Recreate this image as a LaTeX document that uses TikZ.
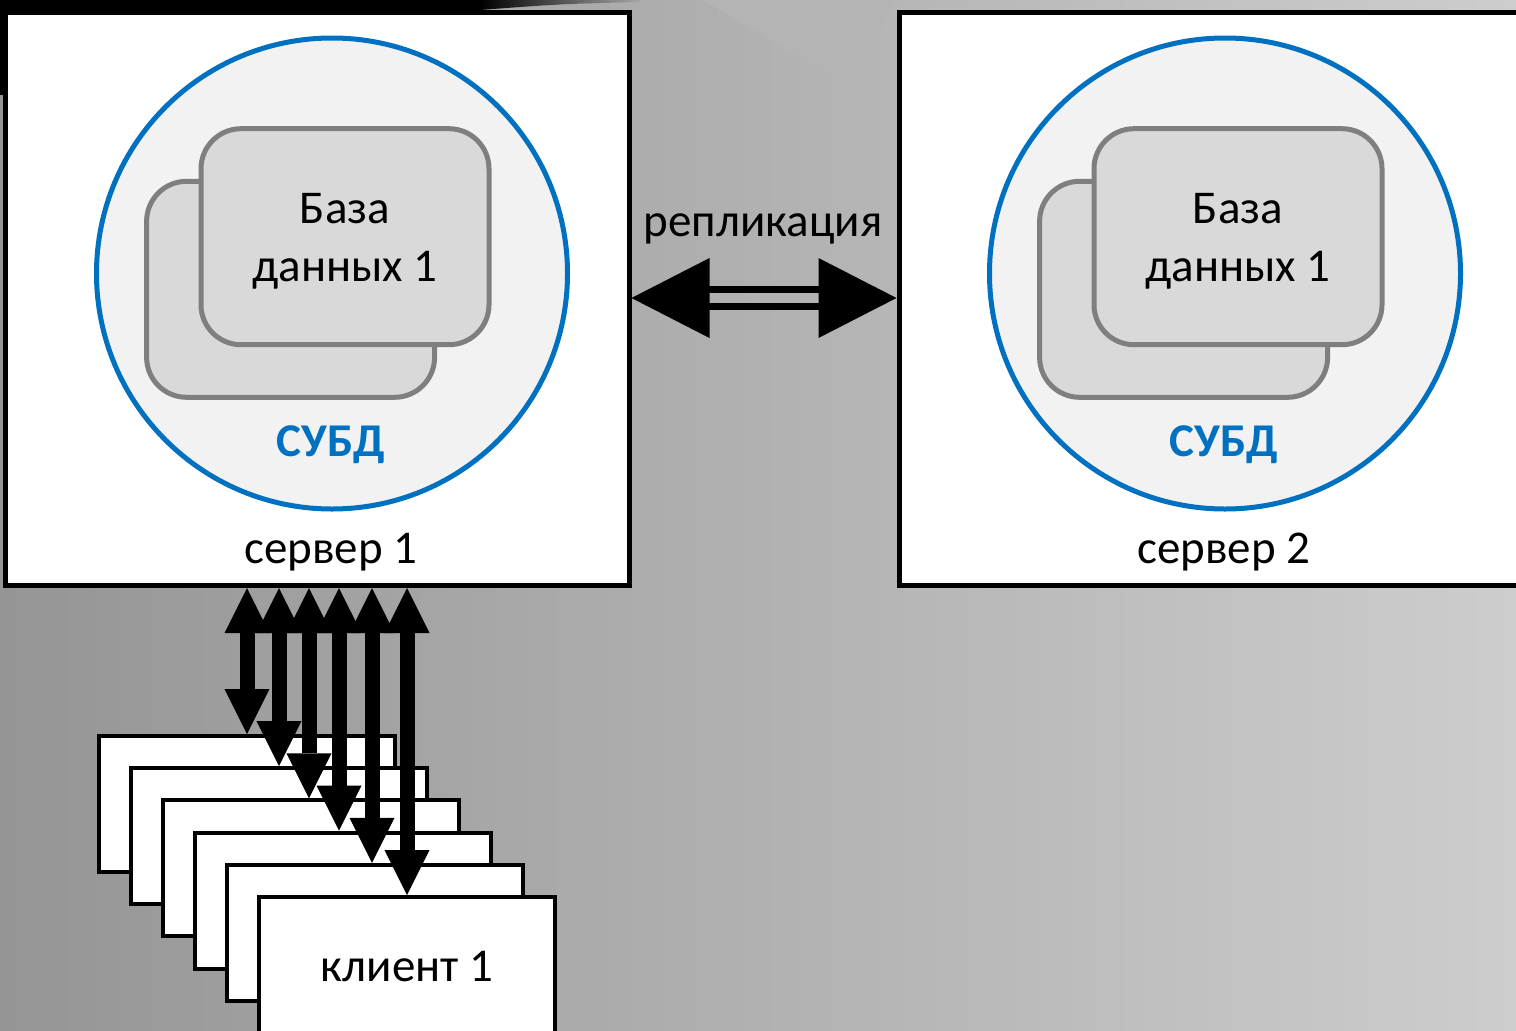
\documentclass[tikz,border=0pt]{standalone}
\usepackage{fontspec}
\setmainfont{Carlito}
\usetikzlibrary{arrows.meta,calc}
\definecolor{bgL}{HTML}{959595}
\definecolor{bgR}{HTML}{CDCDCD}
\definecolor{msblue}{HTML}{0070C0}
\definecolor{circfill}{HTML}{F2F2F2}
\definecolor{dbfill}{HTML}{D9D9D9}
\definecolor{dbline}{HTML}{7F7F7F}
\definecolor{trifill}{HTML}{B4B4B4}
\begin{document}
\begin{tikzpicture}[x=1pt,y=-1pt,
  txt/.style={font=\fontsize{47}{56}\selectfont, anchor=base, inner sep=0pt},
  srvbox/.style={draw=black, fill=white, line width=5pt, minimum width=624pt, minimum height=573pt, inner sep=0pt},
  dbms/.style={circle, draw=msblue, fill=circfill, line width=5pt, minimum size=471pt, inner sep=0pt},
  dbbox/.style={draw=dbline, fill=dbfill, line width=5pt, rounded corners=40pt, minimum width=288pt, minimum height=216pt, inner sep=0pt},
  clientbox/.style={draw=black, fill=white, line width=4pt, minimum width=296pt, minimum height=136pt, inner sep=0pt},
  clink/.style={line width=15pt, {Triangle[length=45pt,width=45pt,line width=0pt]}-{Triangle[length=45pt,width=45pt,line width=0pt]}},
  replline/.style={line width=7pt}
]
\useasboundingbox (0,0) rectangle (1516,1031);
% background
\shade[left color=bgL, right color=bgR] (0,0) rectangle (1516,1031);
\fill[trifill] (703,0) -- (895,0) -- (851,88) -- cycle;
\fill[black] (0,0) rectangle (480,10);
\shade[left color=black, right color=bgL!70!bgR] (480,0) -- (640,0) -- (640,2) .. controls (560,4) .. (480,10) -- cycle;
\fill[black] (0,0) rectangle (3,95);

% server 1
\node[srvbox] (srv1) at (317,298.5) {};
\node[dbms] (c1) at (332,273.5) {};
\node[dbbox] (db1b) at (290.6,289.3) {};
\node[dbbox] (db1f) at (345,236.7) {};
\node[txt] (t1a) at (345,223) {База};
\node[txt] (t1b) at (345,281.7) {данных 1};
\node[txt, font=\fontsize{47}{56}\selectfont\bfseries, text=msblue] (s1) at (331,456) {СУБД};
\node[txt] (n1) at (331,563) {сервер 1};

% server 2
\node[srvbox, minimum width=630pt] (srv2) at (1214,298.5) {};
\node[dbms] (c2) at (1225,273.5) {};
\node[dbbox] (db2b) at (1183.6,289.3) {};
\node[dbbox] (db2f) at (1238,236.7) {};
\node[txt] (t2a) at (1238,223) {База};
\node[txt] (t2b) at (1238,281.7) {данных 1};
\node[txt, font=\fontsize{47}{56}\selectfont\bfseries, text=msblue] (s2) at (1224,456) {СУБД};
\node[txt] (n2) at (1224,563) {сервер 2};

% replication
\node[txt] (rep) at (763,236) {репликация};
\coordinate (ry) at (0,298);
\coordinate (rL) at (srv1.east |- ry);
\coordinate (rR) at (srv2.west |- ry);
\fill (rL) -- ++(78,-40) -- ++(0,80) -- cycle;
\fill (rR) -- ++(-78,-40) -- ++(0,80) -- cycle;
\draw[replline] ([shift={(76,-8.5)}]rL) -- ([shift={(-76,-8.5)}]rR);
\draw[replline] ([shift={(76,8.5)}]rL) -- ([shift={(-76,8.5)}]rR);

% clients
\foreach \i in {0,...,5} {
  \node[clientbox] (cl\i) at ({247+32*\i},{804+32.2*\i}) {};
}
\node[txt] (ct) at (407,981) {клиент 1};

% client links
\foreach \x [count=\k from 0] in {247,279,309,339,372,407} {
  \coordinate (a\k) at (\x,588);
  \draw[clink] (a\k) -- (a\k |- cl\k.north);
}
\end{tikzpicture}
\end{document}
